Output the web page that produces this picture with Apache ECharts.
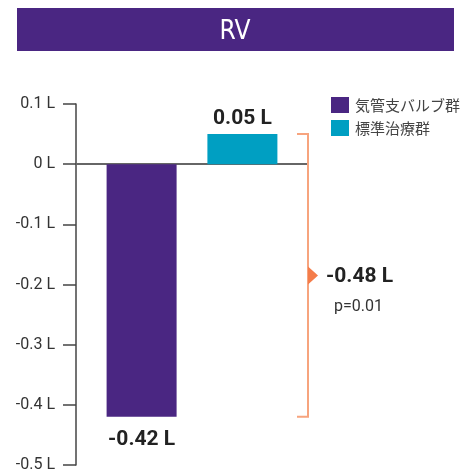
<!DOCTYPE html>
<html><head><meta charset="utf-8">
<script src="https://cdn.jsdelivr.net/npm/echarts@6/dist/echarts.min.js"></script>
<style>html,body{margin:0;padding:0;background:#fff}#c{width:470px;height:476px}</style>
</head><body><div id="c"></div>
<script>
const titleText = 'RV';
const categories = ['RV'];
const seriesNames = ['気管支バルブ群', '標準治療群'];
const valveValues = [-0.42];
const standardValues = [0.05];
const valueLabels = ['-0.42 L', '0.05 L'];
const diffLabel = '-0.48 L';
const pLabel = 'p=0.01';
const yMin = -0.5, yMax = 0.1, yStep = 0.1;
const yTickLabels = ['-0.5 L', '-0.4 L', '-0.3 L', '-0.2 L', '-0.1 L', '0 L', '0.1 L'];

const purple = '#4a2682', teal = '#009fc2', bracket = '#f7a47e', arrow = '#f47c4a';
const fontMain = 'Roboto, "Liberation Sans", sans-serif';
const fontNarrow = '"Liberation Sans Narrow", "DejaVu Sans Condensed", sans-serif';

const chart = echarts.init(document.getElementById('c'), null, {renderer: 'canvas'});
chart.setOption({
  animation: false,
  title: {
    text: titleText, left: 'center', top: 14,
    textStyle: {color: '#fff', fontFamily: fontNarrow, fontWeight: 'normal', fontSize: 26}
  },
  legend: {
    orient: 'vertical', left: 326, top: 92, itemWidth: 18, itemHeight: 16, itemGap: 7,
    icon: 'rect',
    textStyle: {fontFamily: '"Noto Sans CJK JP", sans-serif', fontSize: 15, color: '#444', padding: [0,0,0,1]},
    data: seriesNames
  },
  grid: {left: 76, right: 162, top: 104, bottom: 11, containLabel: false},
  xAxis: {
    type: 'category', data: categories,
    axisLine: {onZero: true, lineStyle: {color: '#666', width: 2}},
    axisTick: {show: false}, axisLabel: {show: false}
  },
  yAxis: {
    type: 'value', min: yMin, max: yMax, interval: yStep,
    axisLine: {show: true, lineStyle: {color: '#444', width: 1.5}},
    axisTick: {show: true, length: 13, lineStyle: {color: '#444', width: 1.5}},
    splitLine: {show: false},
    axisLabel: {
      margin: 21, color: '#333', fontFamily: fontMain, fontSize: 16,
      formatter: v => yTickLabels[Math.round((v - yMin) / yStep)]
    }
  },
  series: [
    {
      name: seriesNames[0], type: 'bar', data: valveValues, barWidth: 70, barGap: '44%',
      itemStyle: {color: purple},
      label: {show: true, position: 'bottom', distance: 12, formatter: () => valueLabels[0],
        color: '#222', fontFamily: fontMain, fontWeight: 'bold', fontSize: 21}
    },
    {
      name: seriesNames[1], type: 'bar', data: standardValues, barWidth: 70,
      itemStyle: {color: teal},
      label: {show: true, position: 'top', distance: 5, formatter: () => valueLabels[1],
        color: '#222', fontFamily: fontMain, fontWeight: 'bold', fontSize: 21}
    }
  ]
});

// Bracket and difference annotation, positioned via the chart's own scale
const yTop = chart.convertToPixel({yAxisIndex: 0}, standardValues[0]);
const yBot = chart.convertToPixel({yAxisIndex: 0}, valveValues[0]);
const yMid = (yTop + yBot) / 2;
const xB = 308;
chart.setOption({
  graphic: [
    {type: 'rect', z: -10, shape: {x: 17, y: 8, width: 437, height: 43}, style: {fill: purple}},
    {type: 'polyline', z: 10, shape: {points: [[297, yTop], [xB, yTop], [xB, yBot], [297, yBot]]},
      style: {stroke: bracket, lineWidth: 2, fill: null}},
    {type: 'polygon', z: 11, shape: {points: [[xB, yMid - 9], [xB + 10, yMid], [xB, yMid + 9]]},
      style: {fill: arrow}},
    {type: 'text', z: 11, left: 326, top: yMid - 9,
      style: {text: diffLabel, fill: '#222', font: 'bold 21px ' + fontMain}},
    {type: 'text', z: 11, left: 334, top: yMid + 24,
      style: {text: pLabel, fill: '#333', font: '16px ' + fontMain}}
  ]
});
</script></body></html>
